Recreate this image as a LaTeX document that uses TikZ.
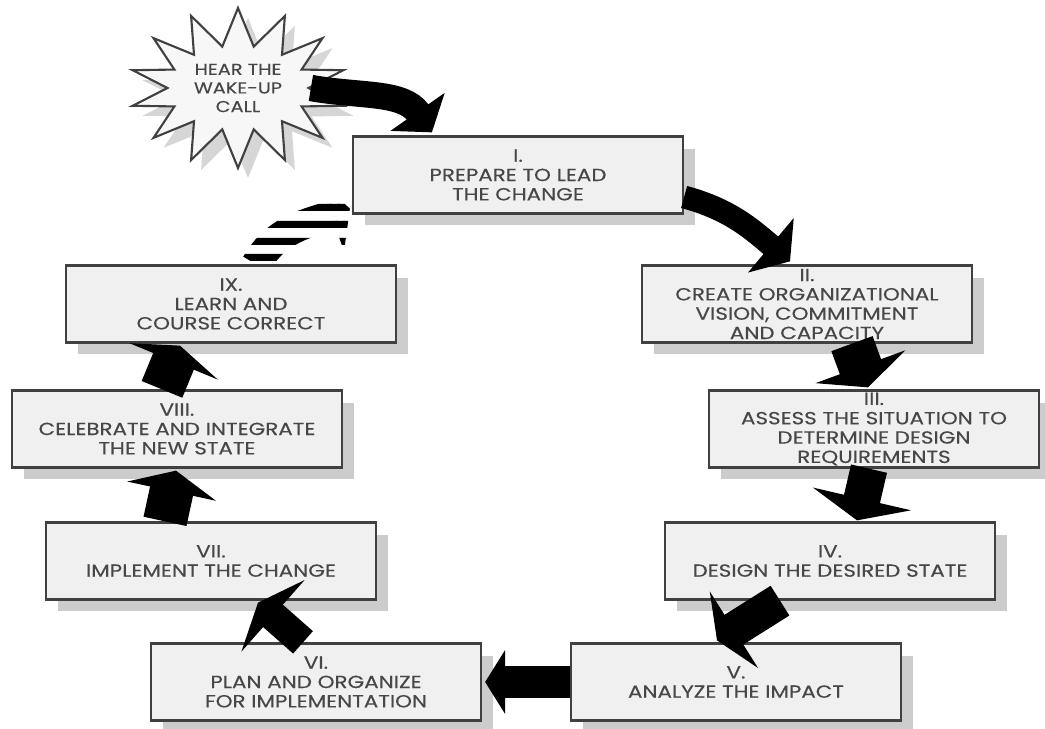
\documentclass[tikz,border=0pt]{standalone}
\usepackage{fontspec}
\setmainfont{Poppins}[FakeStretch=1.22,FakeBold=0.3]
\usetikzlibrary{arrows.meta,shapes.symbols,shadows,calc}

\begin{document}
\begin{tikzpicture}
[x=0.02cm,y=0.02cm,
 stage/.style={draw=black!75,line width=1.3pt,fill=black!6,text=black!72,
   minimum width=6.6cm,minimum height=1.54cm,align=center,inner sep=1pt,
   font=\fontsize{10}{11}\selectfont,
   drop shadow={shadow xshift=0.24cm,shadow yshift=-0.24cm,fill=black!20,opacity=1}},
 flow/.style args={#1/#2/#3}{draw=black,line width=#1,-{Triangle[length=#3,width=#2]}}]
\useasboundingbox (0,0) rectangle (1045,-729);
\node[starburst,starburst points=14,starburst point height=0.75cm,random starburst=0,
  draw=black!75,line width=1.2pt,fill=black!3,text=black!72,align=center,
  minimum width=4.2cm,minimum height=3.1cm,font=\fontsize{9}{10.6}\selectfont,
  drop shadow={shadow xshift=0.2cm,shadow yshift=-0.2cm,fill=black!16,opacity=1}]
  (call) at (238,-88) {HEAR THE\\WAKE-UP\\CALL};
\node[stage] (s1) at (518,-175) {I.\\PREPARE TO LEAD\\THE CHANGE};
\node[stage] (s2) at (807,-304) {II.\\CREATE ORGANIZATIONAL\\VISION, COMMITMENT\\AND CAPACITY};
\node[stage] (s3) at (874,-429) {III.\\ASSESS THE SITUATION TO\\DETERMINE DESIGN\\REQUIREMENTS};
\node[stage] (s4) at (830,-561) {IV.\\DESIGN THE DESIRED STATE};
\node[stage] (s5) at (736,-682) {V.\\ANALYZE THE IMPACT};
\node[stage] (s6) at (316,-682) {VI.\\PLAN AND ORGANIZE\\FOR IMPLEMENTATION};
\node[stage] (s7) at (211,-561) {VII.\\IMPLEMENT THE CHANGE};
\node[stage] (s8) at (177,-429) {VIII.\\CELEBRATE AND INTEGRATE\\THE NEW STATE};
\node[stage] (s9) at (231,-304) {IX.\\LEARN AND\\COURSE CORRECT};
% arrows round the cycle
\draw[flow=15pt/1.3cm/0.5cm] (call.east) to[out=-10,in=125] ($(s1.north west)+(80,3)$);
\draw[flow=13pt/1.4cm/0.5cm] ($(s1.east)+(0,-22)$) to[out=-15,in=140] ($(s2.north)+(-17,3)$);
\draw[flow=25pt/1.9cm/0.44cm] ($(s2.south)+(45,0)$) -- ($(s3.north)+(-6,2)$);
\draw[flow=21pt/2cm/0.44cm] ($(s3.south)+(-5,0)$) -- ($(s4.north)+(27,1)$);
\draw[flow=20pt/1.8cm/0.4cm] ($(s4.south)+(-50,0)$) -- ($(s5.north)+(-19,2)$);
\draw[flow=18pt/1.26cm/0.4cm] (s5.west) -- ($(s6.east)+(3,0)$);
\draw[flow=17pt/1.9cm/0.4cm] ($(s6.north)+(-13,0)$) -- ($(s7.south)+(47,-2)$);
\draw[flow=25pt/1.8cm/0.42cm] ($(s7.north)+(-46,0)$) -- ($(s8.south)+(-1,-2)$);
\draw[flow=25pt/1.9cm/0.34cm] ($(s8.north)+(-15,0)$) -- ($(s9.south)+(-51,-2)$);
% broken arrow back to the start
\begin{scope}
\clip \foreach \y in {204,221,238,254} {(230,-\y) rectangle (380,{-\y-7})};
\draw[flow=17pt/1.5cm/0.4cm] ($(s9.north)+(25,0)$) to[out=60,in=200] ($(s1.south west)+(-2,6)$);
\end{scope}
\end{tikzpicture}
\end{document}
